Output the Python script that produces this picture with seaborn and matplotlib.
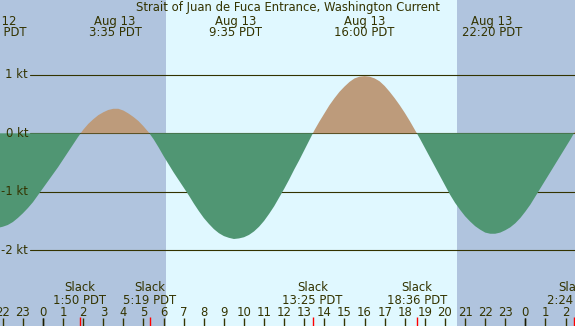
import matplotlib
matplotlib.use("Agg")
import matplotlib.pyplot as plt
import numpy as np
import pandas as pd
import seaborn as sns

title = "Strait of Juan de Fuca Entrance, Washington Current"

# hours after midnight Aug 13 (PDT), every quarter hour
hours = [-2.5, -2.25, -2.0, -1.75, -1.5, -1.25, -1.0, -0.75,
         -0.5, -0.25, 0.0, 0.25, 0.5, 0.75, 1.0, 1.25,
         1.5, 1.75, 2.0, 2.25, 2.5, 2.75, 3.0, 3.25,
         3.5, 3.75, 4.0, 4.25, 4.5, 4.75, 5.0, 5.25,
         5.5, 5.75, 6.0, 6.25, 6.5, 6.75, 7.0, 7.25,
         7.5, 7.75, 8.0, 8.25, 8.5, 8.75, 9.0, 9.25,
         9.5, 9.75, 10.0, 10.25, 10.5, 10.75, 11.0, 11.25,
         11.5, 11.75, 12.0, 12.25, 12.5, 12.75, 13.0, 13.25,
         13.5, 13.75, 14.0, 14.25, 14.5, 14.75, 15.0, 15.25,
         15.5, 15.75, 16.0, 16.25, 16.5, 16.75, 17.0, 17.25,
         17.5, 17.75, 18.0, 18.25, 18.5, 18.75, 19.0, 19.25,
         19.5, 19.75, 20.0, 20.25, 20.5, 20.75, 21.0, 21.25,
         21.5, 21.75, 22.0, 22.25, 22.5, 22.75, 23.0, 23.25,
         23.5, 23.75, 24.0, 24.25, 24.5, 24.75, 25.0, 25.25,
         25.5, 25.75, 26.0, 26.25, 26.5]
# current speed in knots (flood +, ebb -)
current = [-1.62, -1.62, -1.60, -1.57, -1.52, -1.45, -1.37, -1.28,
           -1.18, -1.06, -0.94, -0.82, -0.70, -0.58, -0.45, -0.32,
           -0.19, -0.06, 0.06, 0.16, 0.24, 0.31, 0.36, 0.40,
           0.42, 0.42, 0.39, 0.34, 0.28, 0.21, 0.12, 0.02,
           -0.10, -0.24, -0.39, -0.53, -0.67, -0.80, -0.93, -1.06,
           -1.20, -1.33, -1.45, -1.55, -1.64, -1.71, -1.76, -1.79,
           -1.81, -1.80, -1.78, -1.74, -1.68, -1.60, -1.50, -1.38,
           -1.25, -1.10, -0.95, -0.79, -0.62, -0.46, -0.29, -0.12,
           0.05, 0.20, 0.34, 0.48, 0.60, 0.71, 0.80, 0.88,
           0.94, 0.97, 0.98, 0.97, 0.94, 0.89, 0.81, 0.71,
           0.60, 0.48, 0.35, 0.21, 0.06, -0.09, -0.25, -0.41,
           -0.57, -0.73, -0.89, -1.05, -1.19, -1.31, -1.42, -1.51,
           -1.59, -1.65, -1.70, -1.72, -1.72, -1.70, -1.66, -1.61,
           -1.54, -1.45, -1.34, -1.22, -1.08, -0.94, -0.80, -0.66,
           -0.52, -0.38, -0.24, -0.10, 0.05]

max_hours = [-2.35, 3.583, 9.583, 16.0, 22.333]
max_days = ["Aug 12", "Aug 13", "Aug 13", "Aug 13", "Aug 13"]
max_times = ["21:39 PDT", "3:35 PDT", "9:35 PDT", "16:00 PDT", "22:20 PDT"]

slack_hours = [1.833, 5.317, 13.417, 18.6, 26.4]
slack_times = ["1:50 PDT", "5:19 PDT", "13:25 PDT", "18:36 PDT", "2:24 PDT"]

kt_levels = [1, 0, -1, -2]
tick_hours = list(range(-2, 27))
midnights = [0, 24]
sunrise, sunset = 6.12, 20.6

df = pd.DataFrame({"hour": hours, "current": current})

night = "#b0c4de"
day = "#e0f8ff"
flood = "#bd9b7b"
ebb = "#509673"
ink = "#333300"

sns.set_style("white")
plt.rcParams["font.family"] = ["DejaVu Sans"]
fs = 8.4

fig = plt.figure(figsize=(5.75, 3.26), dpi=100)
ax = fig.add_axes([0, 0, 1, 1])
ax.set_axis_off()

# night / day background
ax.axvspan(-5, sunrise, color=night, lw=0, zorder=0)
ax.axvspan(sunrise, sunset, color=day, lw=0, zorder=0)
ax.axvspan(sunset, 30, color=night, lw=0, zorder=0)

# knot grid lines + labels
for lv in kt_levels:
    ax.axhline(lv, xmin=30 / 575, color=ink, lw=0.8, zorder=1)
    ax.text(28 / 575, lv, f"{lv} kt", transform=ax.get_yaxis_transform(),
            ha="right", va="center", fontsize=fs, color=ink, zorder=3)

# current curve
x = df["hour"].to_numpy()
y = df["current"].to_numpy()
ax.fill_between(x, y, 0, where=y >= 0, interpolate=True, color=flood, lw=0, zorder=2)
ax.fill_between(x, y, 0, where=y <= 0, interpolate=True, color=ebb, lw=0, zorder=2)

# hour ticks along the bottom
sns.rugplot(x=tick_hours, height=8 / 326, color=ink, lw=0.8, ax=ax,
            expand_margins=False, zorder=3)
sns.rugplot(x=midnights, height=8 / 326, color="#1a1a00", lw=2.3, ax=ax,
            expand_margins=False, zorder=3)
sns.rugplot(x=slack_hours, height=9 / 326, color="red", lw=0.8, ax=ax,
            expand_margins=False, zorder=3)
tr = ax.get_xaxis_transform()
for h in tick_hours:
    ax.text(h, (326 - 315.5) / 326, str(h % 24), transform=tr, ha="center",
            va="baseline", fontsize=fs, color=ink, zorder=3)

# slack labels
for h, t in zip(slack_hours, slack_times):
    ax.text(h, (326 - 291) / 326, "Slack", transform=tr, ha="center",
            va="baseline", fontsize=fs, color=ink, zorder=3)
    ax.text(h, (326 - 304.5) / 326, t, transform=tr, ha="center",
            va="baseline", fontsize=fs, color=ink, zorder=3)

# max current labels
for h, d, t in zip(max_hours, max_days, max_times):
    ax.text(h, (326 - 25) / 326, d, transform=tr, ha="center",
            va="baseline", fontsize=fs, color=ink, zorder=3)
    ax.text(h, (326 - 36) / 326, t, transform=tr, ha="center",
            va="baseline", fontsize=fs, color=ink, zorder=3)

ax.text(0.5, (326 - 11) / 326, title, transform=ax.transAxes, ha="center",
        va="baseline", fontsize=fs, color=ink, zorder=3)

ax.set_xlim(-2.139, 26.468)
ax.set_ylim(-3.300, 2.283)

fig.savefig("out.png", dpi=100)
